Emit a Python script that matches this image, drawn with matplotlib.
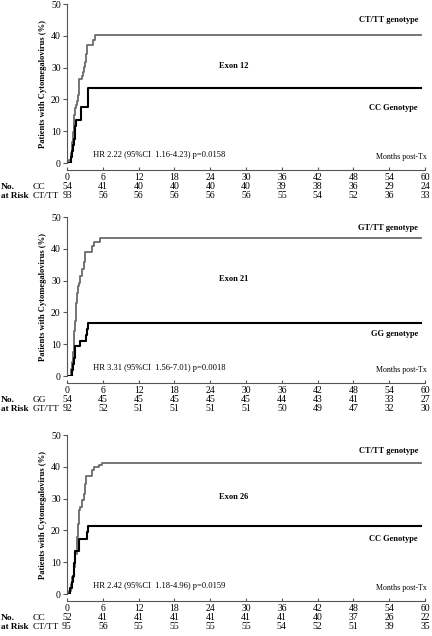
import matplotlib
matplotlib.use("Agg")
from matplotlib import pyplot as plt
from matplotlib import transforms

plt.rcParams['font.family'] = ['Liberation Serif', 'DejaVu Serif']

months = [0, 6, 12, 18, 24, 30, 36, 42, 48, 54, 60]

# exon 12
e12_hi_t = [0.4, 0.6, 0.8, 0.95, 1.1, 1.25, 1.4, 1.55, 1.7, 1.85, 2.0, 2.1, 2.5, 2.7, 2.9, 3.1, 3.2, 3.3, 4.3, 4.7]
e12_hi_y = [1.1, 3.2, 6.5, 9.7, 12.9, 15.1, 17.2, 18.3, 19.4, 21.5, 24.7, 26.4, 27.5, 28.6, 30.1, 31.7, 34.4, 37.1, 38.6, 40.2]
e12_lo_t = [0.7, 0.85, 1.0, 1.2, 1.4, 1.55, 2.35, 3.45, 3.6]
e12_lo_y = [1.9, 3.8, 5.7, 7.6, 11.5, 13.5, 17.6, 19.6, 23.5]
e12_risk_lo = [54, 41, 40, 40, 40, 40, 39, 38, 36, 29, 24]
e12_risk_hi = [93, 56, 56, 56, 56, 56, 55, 54, 52, 36, 33]

# exon 21
e21_hi_t = [0.65, 0.8, 0.95, 1.1, 1.25, 1.4, 1.55, 1.7, 1.85, 2.0, 2.25, 2.5, 2.8, 3.1, 4.2, 4.5, 5.6]
e21_hi_y = [2.2, 4.3, 7.6, 10.9, 14.1, 17.4, 22.8, 26.1, 28.3, 29.3, 31.5, 33.7, 35.9, 39.1, 40.8, 42.2, 43.4]
e21_lo_t = [0.8, 1.0, 1.2, 1.4, 2.2, 3.2, 3.4, 3.6]
e21_lo_y = [1.9, 3.7, 5.6, 9.3, 11.1, 13.0, 14.8, 16.7]
e21_risk_lo = [54, 45, 45, 45, 45, 45, 44, 43, 41, 33, 27]
e21_risk_hi = [92, 52, 51, 51, 51, 51, 50, 49, 47, 32, 30]

# exon 26
e26_hi_t = [0.3, 0.6, 0.85, 1.1, 1.35, 1.6, 1.8, 1.95, 2.25, 2.5, 2.8, 3.0, 3.25, 4.2, 4.5, 5.3, 5.9]
e26_hi_y = [1.1, 3.2, 5.3, 8.5, 12.6, 17.9, 22.1, 26.3, 27.4, 29.5, 31.6, 34.7, 37.0, 38.9, 40.0, 40.6, 41.2]
e26_lo_t = [0.5, 0.85, 1.0, 1.2, 1.4, 2.0, 3.3, 3.55]
e26_lo_y = [1.9, 3.8, 5.8, 9.6, 13.5, 17.4, 19.4, 21.4]
e26_risk_lo = [52, 41, 41, 41, 41, 41, 41, 40, 37, 26, 22]
e26_risk_hi = [95, 56, 55, 55, 55, 55, 54, 52, 51, 39, 35]

panels = [
    (0.7437, e12_hi_t, e12_hi_y, e12_lo_t, e12_lo_y, e12_risk_lo, e12_risk_hi,
     'CT/TT genotype', 'CC Genotype', 'Exon 12', 'CC', 'CT/TT',
     'HR 2.22 (95%CI  1.16-4.23) p=0.0158', 45.0, 17.3),
    (0.4088, e21_hi_t, e21_hi_y, e21_lo_t, e21_lo_y, e21_risk_lo, e21_risk_hi,
     'GT/TT genotype', 'GG genotype', 'Exon 21', 'GG', 'GT/TT',
     'HR 3.31 (95%CI  1.56-7.01) p=0.0018', 46.6, 13.1),
    (0.066, e26_hi_t, e26_hi_y, e26_lo_t, e26_lo_y, e26_risk_lo, e26_risk_hi,
     'CT/TT genotype', 'CC Genotype', 'Exon 26', 'CC', 'CT/TT',
     'HR 2.42 (95%CI  1.18-4.96) p=0.0159', 45.0, 17.4),
]

fig = plt.figure(figsize=(4.32, 6.36), dpi=100)

for (bottom, hi_t, hi_y, lo_t, lo_y, risk_lo, risk_hi, hi_name, lo_name, exon,
     g_lo, g_hi, hr, hi_lab_y, lo_lab_y) in panels:
    ax = fig.add_axes([0.155, bottom, 0.829, 0.25])
    ax.step([0] + hi_t + [59.3], [0] + hi_y + [hi_y[-1]], where='post', color='#6a6a6a', lw=1.3)
    ax.step([0] + lo_t + [59.3], [0] + lo_y + [lo_y[-1]], where='post', color='black', lw=1.5)
    ax.set_xlim(0, 60)
    ax.set_ylim(0, 50)
    ax.set_xticks(months)
    ax.set_yticks([0, 10, 20, 30, 40, 50])
    ax.spines['top'].set_visible(False)
    ax.spines['right'].set_visible(False)
    ax.spines['bottom'].set_position(('outward', 5))
    ax.spines['left'].set_color('#555555')
    ax.spines['bottom'].set_color('#555555')
    ax.tick_params(axis='y', direction='out', length=3, labelsize=7, pad=1.5, color='#555555')
    ax.tick_params(axis='x', direction='in', length=2.5, labelsize=7, pad=2.5, color='#555555')
    ax.set_ylabel('Patients with Cytomegalovirus (%)', fontsize=6.1, fontweight='bold', labelpad=3)

    ax.text(58.8, hi_lab_y, hi_name, ha='right', va='center', fontsize=6.0, fontweight='bold')
    ax.text(58.8, lo_lab_y, lo_name, ha='right', va='center', fontsize=6.0, fontweight='bold')
    ax.text(25.5, 30.5, exon, ha='left', va='center', fontsize=6.0, fontweight='bold')
    ax.text(4.4, 2.6, hr, ha='left', va='center', fontsize=6.1)
    ax.text(60.3, 2.0, 'Months post-Tx', ha='right', va='center', fontsize=5.7)

    # number at risk table
    tr = transforms.blended_transform_factory(ax.transData, ax.transAxes)
    ftr = transforms.blended_transform_factory(fig.transFigure, ax.transAxes)
    for m, a, b in zip(months, risk_lo, risk_hi):
        ax.text(m, -0.148, str(a), transform=tr, ha='center', va='center', fontsize=7, clip_on=False)
        ax.text(m, -0.205, str(b), transform=tr, ha='center', va='center', fontsize=7, clip_on=False)
    ax.text(0.003, -0.148, 'No.', transform=ftr, ha='left', va='center', fontsize=6.8, fontweight='bold')
    ax.text(0.002, -0.205, 'at Risk', transform=ftr, ha='left', va='center', fontsize=6.6, fontweight='bold')
    ax.text(0.075, -0.148, g_lo, transform=ftr, ha='left', va='center', fontsize=6.8)
    ax.text(0.075, -0.205, g_hi, transform=ftr, ha='left', va='center', fontsize=6.8)

fig.savefig('out.png', dpi=100)
